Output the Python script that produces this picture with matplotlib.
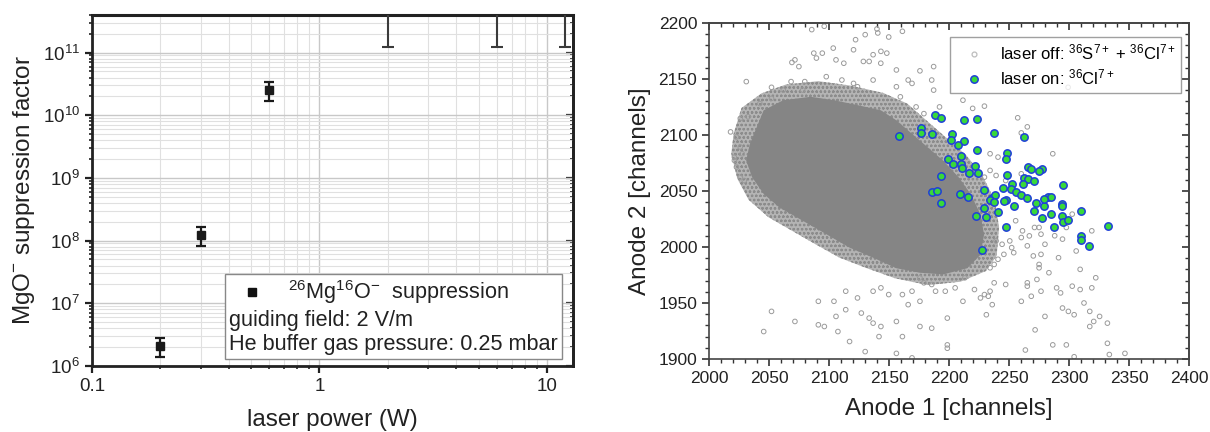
import numpy as np
import matplotlib
matplotlib.use("Agg")
import matplotlib.pyplot as plt
from matplotlib.lines import Line2D
from matplotlib.offsetbox import (AnchoredOffsetbox, VPacker, HPacker,
                                  TextArea, DrawingArea)
from matplotlib.ticker import NullFormatter, MultipleLocator, LogLocator

plt.rcParams['font.family'] = ['Liberation Sans', 'DejaVu Sans']
plt.rcParams['mathtext.fontset'] = 'custom'
plt.rcParams['mathtext.rm'] = 'Liberation Sans'
plt.rcParams['mathtext.it'] = 'Liberation Sans:italic'
plt.rcParams['mathtext.bf'] = 'Liberation Sans:bold'
plt.rcParams['mathtext.default'] = 'regular'
plt.rcParams['hatch.linewidth'] = 0.6

# ---------------- left panel data ----------------
power = [0.2, 0.3, 0.6]
suppression = [2.08e6, 1.25e8, 2.57e10]
supp_low = [1.37e6, 8.1e7, 1.66e10]
supp_high = [2.76e6, 1.67e8, 3.4e10]
limit_power = [2.0, 6.0, 12.0]
limit_low = [1.25e11, 1.25e11, 1.25e11]
left_xlim = (0.1, 13.0)
left_ylim = (1e6, 4e11)

# ---------------- right panel data ----------------
core_x = [2034, 2045.5, 2061.8, 2084.6, 2104, 2123.6, 2143, 2156, 2169, 2182,
          2195, 2208, 2218, 2226, 2229, 2226, 2215, 2195, 2175.6, 2156,
          2136.6, 2117, 2097.6, 2078, 2058.5, 2045.5, 2035.8, 2030.9]
core_y = [2092, 2122, 2131, 2134, 2131, 2126.6, 2122, 2113, 2101, 2089,
          2077, 2062, 2047, 2029, 2011, 1993, 1981, 1975.5, 1977, 1981,
          1990.4, 1999.4, 2011.4, 2023.4, 2035.3, 2047.3, 2062.3, 2077.2]
halo_x = [2020.5, 2027.0, 2043.5, 2064, 2091, 2118, 2145, 2165, 2181.5,
          2198, 2214.5, 2228, 2238, 2241.5, 2239.5, 2230.5, 2209.5,
          2182.1, 2155, 2131.5, 2108.5, 2088.5, 2069, 2049.5, 2033, 2023.5,
          2018.5]
halo_y = [2101.2, 2124, 2137, 2145, 2148, 2144, 2137.5, 2128, 2112.5,
          2097, 2081.5, 2063, 2041.3, 2017.4, 1992, 1978.5, 1969, 1966,
          1972, 1981, 1990.5, 2002.5, 2014.5, 2026.5, 2042, 2061, 2083.2]

off_x = [2085.5, 2095.9, 2130, 2139.8, 2140.5, 2161, 2149.6, 2122, 2120.3,
         2103.4, 2094.3, 2087.2, 2089.4, 2071.5, 2074.8, 2112.2, 2105.7,
         2136.6, 2143.1, 2148, 2133.3, 2128.5, 2143, 2156, 2175.6, 2187,
         2185.4, 2187, 2169, 2165.8, 2069, 2068.3, 2079.7, 2078, 2052, 2061.8,
         2031, 2052, 2042.3, 2032.5, 2026, 2017.9, 2022.8, 2026, 2022.8,
         2029.3, 2026, 2021.1, 2021.1, 2027.6, 2156, 2159.3, 2136.6, 2123.6,
         2120.3, 2110.6, 2097.6, 2172.4, 2178.9, 2191.9, 2211.4, 2219.5,
         2229.3, 2257, 2265, 2260, 2234, 2240.6, 2234, 2229.3, 2239, 2247,
         2260, 2255.3, 2261, 2274.8, 2276.4, 2271, 2286.2, 2239, 2244,
         2250.4, 2252, 2253.7, 2245.5, 2240.6, 2237.4, 2234, 2260, 2266.7,
         2265, 2270, 2274.8, 2283, 2274.8, 2265, 2265, 2273, 2247, 2237.4,
         2234, 2229.3, 2226, 2221, 2213, 2204.9, 2196.7, 2188.6, 2185.4,
         2178.9, 2175.6, 2169, 2161, 2149.6, 2143.1, 2136.6, 2123.6, 2113.8,
         2104, 2091, 2071.5, 2052, 2045.5, 2091, 2105.7, 2113.8, 2126.8,
         2133.3, 2136.6, 2143.1, 2156, 2165.8, 2175.6, 2175.6, 2185.4,
         2198.4, 2211.4, 2232.5, 2235.8, 2230.9, 2260, 2268.3, 2276.4,
         2289.4, 2292.7, 2302.4, 2294.3, 2299.2, 2304, 2312.2, 2317, 2320.3,
         2325.2, 2331.7, 2331.7, 2317, 2286.2, 2297.5, 2304, 2279.7, 2271.5,
         2263.4, 2198.4, 2198.4, 2169, 2156, 2161, 2141.5, 2130, 2117,
         2107.3, 2096, 2318.7, 2309, 2322, 2309, 2318.7, 2294.3, 2305.7,
         2297.5, 2287.8, 2302.4, 2279.7, 2276.4, 2291, 2333.3, 2346.3, 2299]
off_y = [2194, 2197, 2189.5, 2194.6, 2191, 2192.5, 2187.4, 2185, 2176,
         2177.5, 2173, 2173, 2168.6, 2167, 2161, 2164, 2167, 2171.6, 2174.6,
         2173, 2165.6, 2165.6, 2164, 2158, 2157.2, 2161, 2149, 2140, 2146,
         2149, 2164.7, 2147.6, 2147.6, 2140, 2142.5, 2140, 2147.6, 2132.6,
         2128, 2116.2, 2114.7, 2102.7, 2098.2, 2089.2, 2071.3, 2059.3, 2062.3,
         2080.2, 2077.2, 2083.2, 2143, 2134, 2149, 2143, 2146, 2149, 2152,
         2125, 2119, 2125, 2131, 2123.7, 2125.7, 2115.3, 2107.2, 2101.8,
         2083.2, 2080.2, 2068.3, 2062.3, 2063.8, 2059.3, 2065.3, 2023.4,
         2014.4, 2017.4, 2011.4, 2017.4, 2083.2, 2005.4, 2002.4, 2005.4,
         1999.4, 1994.9, 1993.4, 1989, 1984.4, 1981.4, 2008.4, 2009.9, 2001,
         1992, 1981.4, 1977, 1984.4, 1968, 1965, 1971, 1966.5, 1968, 1960.5,
         1957.5, 1954.5, 1962, 1972.5, 1963.5, 1960.5, 1960.5, 1966.5, 1968,
         1972.5, 1960.5, 1957.5, 1957.5, 1963.5, 1960.5, 1954.5, 1960.5,
         1951.5, 1951.5, 1933.5, 1942.5, 1924.5, 1930.5, 1938, 1944, 1941,
         1936.5, 1932, 1929, 1933.5, 1948.5, 1951.5, 1929, 1927.5, 1936.5,
         1951.5, 1956, 1948.5, 1939.5, 1951.5, 1956, 1960.5, 1963.5, 1959,
         1965, 1945.5, 1942.5, 1939.5, 1950, 1942.5, 1933.5, 1938, 1932,
         1914, 1929, 1912.6, 1912.6, 1902, 1938, 1926, 1908, 1912.6, 1909.6,
         1901, 1905, 1920, 1920, 1906.6, 1915.6, 1924.5, 1929, 2014.4, 1980,
         1972.5, 1962, 1963.5, 2007, 1996.4, 2017.4, 2010, 2029.3, 2002.4,
         1993.4, 1990.4, 1904, 1905, 2142.5]

on_x = [2158.4, 2176.3, 2176.3, 2185.4, 2188.0, 2193.5, 2212.4, 2222.8,
        2202.6, 2201.6, 2212.4, 2207.2, 2222.8, 2237.4, 2262.4, 2199.3,
        2209.8, 2209.8, 2203.3, 2210.7, 2221.1, 2223.7, 2216.3, 2193.5,
        2248.1, 2247.5, 2248.1, 2265.7, 2268.3, 2277.4, 2274.8, 2262.4,
        2265.7, 2270.9, 2261.1, 2252.0, 2244.6, 2251.4, 2255.3, 2259.5,
        2264.4, 2247.2, 2245.5, 2235.8, 2238.4, 2229.3, 2234.1, 2237.4,
        2229.3, 2240.7, 2254.0, 2185.4, 2190.2, 2193.5, 2209.1, 2215.6,
        2222.1, 2230.2, 2295.0, 2272.2, 2278.7, 2282.3, 2284.6, 2279.0,
        2270.9, 2277.4, 2284.6, 2294.3, 2294.3, 2294.3, 2295.0, 2299.2,
        2309.3, 2309.3, 2309.9, 2316.4, 2332.0, 2287.2, 2247.5, 2227.0]
on_y = [2099.1, 2106.3, 2101.8, 2101.2, 2117.4, 2115.3, 2113.5, 2114.1,
        2101.2, 2095.8, 2094.9, 2091.0, 2086.8, 2101.8, 2097.9, 2078.7,
        2081.1, 2074.3, 2074.3, 2070.4, 2072.2, 2065.9, 2065.9, 2063.2,
        2084.1, 2078.1, 2064.4, 2071.3, 2069.2, 2069.8, 2067.7, 2061.4,
        2060.5, 2059.3, 2056.3, 2056.3, 2053.0, 2051.8, 2048.8, 2046.7,
        2043.4, 2042.2, 2040.7, 2044.0, 2046.7, 2050.9, 2042.2, 2039.8,
        2035.0, 2030.8, 2036.2, 2048.8, 2049.7, 2038.9, 2047.3, 2044.6,
        2027.5, 2026.9, 2055.1, 2039.5, 2036.5, 2044.3, 2044.9, 2042.8,
        2031.7, 2026.0, 2029.0, 2038.3, 2036.2, 2027.8, 2021.9, 2023.7,
        2031.7, 2009.6, 2006.0, 2000.9, 2018.6, 2017.9, 2017.9, 1997.0]

right_xlim = (2000, 2400)
right_ylim = (1900, 2200)

# ---------------- figure ----------------
fig = plt.figure(figsize=(12.1, 4.32), dpi=100)

# ===== left panel =====
ax1 = fig.add_axes([0.076, 0.153, 0.3975, 0.8125])
ax1.set_xscale('log')
ax1.set_yscale('log')
ax1.set_xlim(*left_xlim)
ax1.set_ylim(*left_ylim)
ax1.grid(True, which='major', color='#c8c8c8', lw=1.0)
ax1.grid(True, which='minor', color='#e0e0e0', lw=0.8)
ax1.set_axisbelow(True)

s = np.array(suppression)
yerr = [s - np.array(supp_low), np.array(supp_high) - s]
ax1.errorbar(power, suppression, yerr=yerr, fmt='s', color='#1a1a1a',
             ms=6, capsize=3.5, elinewidth=1.6, capthick=1.6, zorder=3)
ll = np.array(limit_low)
top = np.full_like(ll, left_ylim[1] * 10)
ax1.errorbar(limit_power, top, yerr=[top - ll, np.zeros_like(ll)], fmt='none',
             ecolor='#3a3a3a', capsize=4.5, elinewidth=1.5, capthick=1.5,
             zorder=3)

ax1.set_xticks([0.1, 1, 10], labels=['0.1', '1', '10'])
ax1.xaxis.set_minor_locator(LogLocator(base=10, subs=np.arange(2, 10)))
ax1.xaxis.set_minor_formatter(NullFormatter())
ax1.yaxis.set_major_locator(LogLocator(base=10, numticks=20))
ax1.yaxis.set_minor_locator(LogLocator(base=10, subs=np.arange(2, 10), numticks=20))
ax1.yaxis.set_minor_formatter(NullFormatter())
ax1.tick_params(which='major', direction='out', length=5, width=1.6,
                labelsize=13.5, colors='#222222', labelcolor='#222222')
ax1.tick_params(which='minor', direction='out', length=2.5, width=1.2,
                colors='#222222')
for sp in ax1.spines.values():
    sp.set_linewidth(2.0)
    sp.set_color('#222222')
ax1.spines['top'].set_linewidth(2.2)

sec1 = ax1.secondary_yaxis('right')
sec1.tick_params(which='major', direction='in', length=5, width=1.6,
                 labelright=False, colors='#222222')
sec1.tick_params(which='minor', direction='in', length=2.5, width=1.2,
                 colors='#222222')
sec1.yaxis.set_major_locator(LogLocator(base=10, numticks=20))
sec1.yaxis.set_minor_locator(LogLocator(base=10, subs=np.arange(2, 10), numticks=20))
sec1.yaxis.set_major_formatter(NullFormatter())
sec1.yaxis.set_minor_formatter(NullFormatter())
sec1.spines['right'].set_linewidth(2.0)
sec1.spines['right'].set_color('#222222')

ax1.set_xlabel('laser power (W)', fontsize=17.5, color='#222222', labelpad=10)
ax1.set_ylabel('MgO$^{-}$ suppression factor', fontsize=17.5, color='#222222',
               labelpad=4)

# legend box (marker entry + two text lines)
lfs = 15.6
da = DrawingArea(42, 16, 0, 0)
da.add_artist(Line2D([16.5], [8], marker='s', color='#111111', ms=5.5, ls='none'))
row1 = HPacker(children=[da, TextArea('$^{26}$Mg$^{16}$O$^{-}$  suppression',
                                      textprops=dict(fontsize=lfs, color='#222222'))],
               align='center', pad=0, sep=0)
t2 = TextArea('guiding field: 2 V/m', textprops=dict(fontsize=lfs, color='#222222'))
t3 = TextArea('He buffer gas pressure: 0.25 mbar',
              textprops=dict(fontsize=lfs, color='#222222'))
vp = VPacker(children=[row1, t2, t3], align='left', pad=0, sep=2.5)
ab = AnchoredOffsetbox(loc='lower right', child=vp, pad=0.28, borderpad=0,
                       frameon=True, bbox_to_anchor=(0.977, 0.02),
                       bbox_transform=ax1.transAxes)
ab.patch.set_edgecolor('#888888')
ab.patch.set_linewidth(1.0)
ab.patch.set_boxstyle('square', pad=0)
ab.zorder = 5
ax1.add_artist(ab)

# ===== right panel =====
ax2 = fig.add_axes([0.586, 0.169, 0.397, 0.778])
ax2.set_xlim(*right_xlim)
ax2.set_ylim(*right_ylim)
ax2.fill(halo_x, halo_y, facecolor='#b4b4b4', edgecolor='#8c8c8c',
         hatch='oooo', lw=0, zorder=1)
ax2.fill(core_x, core_y, color='#858585', lw=0, zorder=1.5)
ax2.scatter(off_x, off_y, s=11, facecolors='none', edgecolors='#9a9a9a',
            linewidths=0.7, zorder=2)
ax2.scatter(on_x, on_y, s=28, facecolors='#38d83a', edgecolors='#1f3fd8',
            linewidths=1.1, zorder=3)

ax2.xaxis.set_major_locator(MultipleLocator(50))
ax2.xaxis.set_minor_locator(MultipleLocator(10))
ax2.yaxis.set_major_locator(MultipleLocator(50))
ax2.yaxis.set_minor_locator(MultipleLocator(10))
ax2.tick_params(which='major', direction='out', length=5, width=1.2,
                labelsize=12.5, colors='#333333', labelcolor='#222222')
ax2.tick_params(which='minor', direction='out', length=3, width=1.0,
                colors='#333333')
for sp in ax2.spines.values():
    sp.set_linewidth(1.2)
    sp.set_color('#444444')

secx = ax2.secondary_xaxis('top')
secy = ax2.secondary_yaxis('right')
for sa, axis in ((secx, secx.xaxis), (secy, secy.yaxis)):
    axis.set_major_locator(MultipleLocator(50))
    axis.set_minor_locator(MultipleLocator(10))
    axis.set_major_formatter(NullFormatter())
    sa.tick_params(which='major', direction='in', length=5, width=1.2,
                   colors='#333333')
    sa.tick_params(which='minor', direction='in', length=3, width=1.0,
                   colors='#333333')
    for sp in sa.spines.values():
        sp.set_linewidth(1.2)
        sp.set_color('#444444')

ax2.set_xlabel('Anode 1 [channels]', fontsize=17.5, color='#222222', labelpad=9)
ax2.set_ylabel('Anode 2 [channels]', fontsize=17.5, color='#222222', labelpad=5)

h_off = Line2D([], [], marker='o', ls='none', ms=3.5, mfc='none',
               mec='#bdbdbd', mew=0.9)
h_on = Line2D([], [], marker='o', ls='none', ms=5.3, mfc='#38d83a',
              mec='#1f3fd8', mew=1.1)
leg = ax2.legend([h_off, h_on],
                 ['laser off: $^{36}$S$^{7+}$ + $^{36}$Cl$^{7+}$',
                  'laser on: $^{36}$Cl$^{7+}$'],
                 loc='upper right', bbox_to_anchor=(0.983, 0.958),
                 fontsize=12, frameon=True, fancybox=False, borderpad=0.35,
                 handletextpad=0.45, handlelength=2.2, labelspacing=0.3,
                 borderaxespad=0)
leg.get_frame().set_edgecolor('#888888')
leg.get_frame().set_linewidth(1.0)

fig.savefig('out.png', dpi=100)
